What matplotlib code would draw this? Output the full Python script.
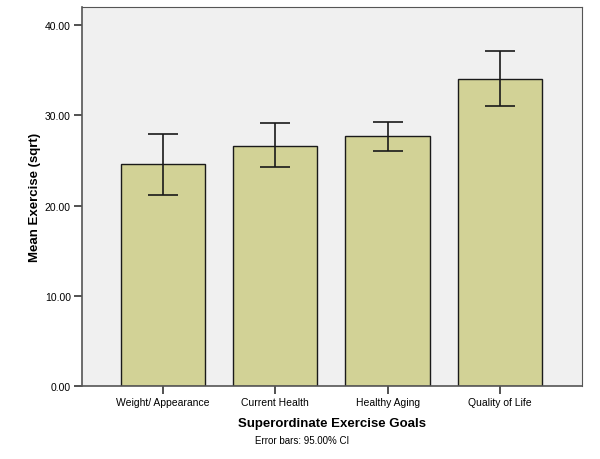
import matplotlib
matplotlib.use("Agg")
import matplotlib.pyplot as plt
import numpy as np

plt.rcParams['font.family'] = ['Liberation Sans', 'DejaVu Sans']

# Data
goals = ["Weight/ Appearance", "Current Health", "Healthy Aging", "Quality of Life"]
means = [24.55, 26.65, 27.65, 34.05]
ci_low = [21.14, 24.32, 26.02, 30.98]
ci_high = [27.96, 29.09, 29.28, 37.11]

x = np.arange(len(goals))
yerr = [np.array(means) - np.array(ci_low), np.array(ci_high) - np.array(means)]

fig = plt.figure(figsize=(6, 4.6), dpi=100)
ax = fig.add_axes([0.1367, 0.1587, 0.8333, 0.8239])
ax.set_facecolor('#f0f0f0')

ax.bar(x, means, width=0.75, color='#d2d296', edgecolor='#1a1a1a', linewidth=1.0, zorder=2)
ax.errorbar(x, means, yerr=yerr, fmt='none', ecolor='#1a1a1a', elinewidth=1.2,
            capsize=10.5, capthick=1.2, zorder=3)

ax.set_xlim(-0.72, 3.73)
ax.set_ylim(0, 42)
ax.set_yticks([0, 10, 20, 30, 40])
ax.set_yticklabels(["%.2f" % v for v in [0, 10, 20, 30, 40]], fontsize=7.5)
ax.set_xticks(x)
ax.set_xticklabels(goals, fontsize=7.5)
ax.tick_params(axis='both', direction='out', length=6, width=1.2, color='#333333', pad=2)

for side in ['left', 'bottom']:
    ax.spines[side].set_color('#555555')
    ax.spines[side].set_linewidth(1.2)
for side in ['top', 'right']:
    ax.spines[side].set_color('#555555')
    ax.spines[side].set_linewidth(0.8)

ax.set_ylabel("Mean Exercise (sqrt)", fontsize=9.5, fontweight='bold', labelpad=3)
ax.set_xlabel("Superordinate Exercise Goals", fontsize=9.5, fontweight='bold', labelpad=7)
fig.text(302 / 600, 1 - 441 / 460, "Error bars: 95.00% CI", fontsize=7, ha='center', va='center')

plt.savefig("out.png", dpi=100)
plt.close()
